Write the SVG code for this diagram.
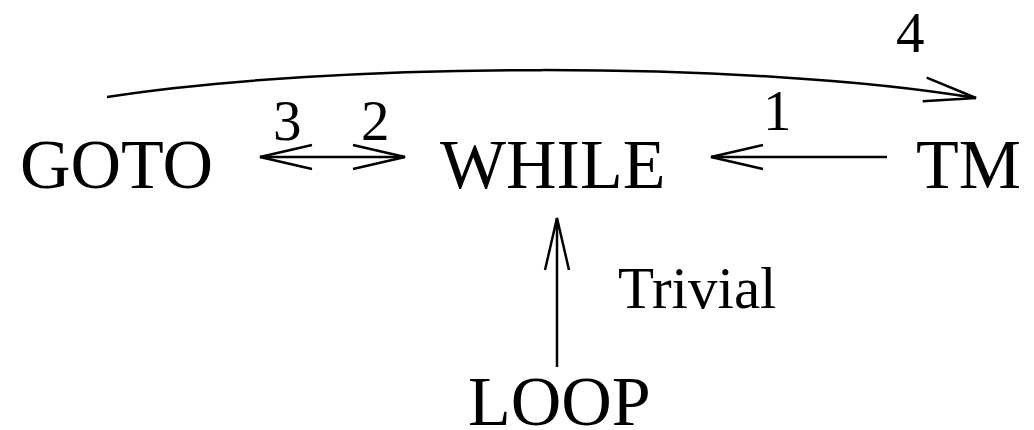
<svg xmlns="http://www.w3.org/2000/svg" width="1034" height="430" viewBox="0 0 1034 430">
<style>
.node{font-family:"Liberation Serif","Times New Roman",serif;font-size:70px;fill:#000}
.lbl{font-family:"Liberation Serif","Times New Roman",serif;font-size:57px;fill:#000}
.edge{fill:none;stroke:#000;stroke-width:2.5}
</style>
<defs>
<marker id="ah" markerUnits="userSpaceOnUse" viewBox="-56 -16 60 32" markerWidth="60" markerHeight="32" refX="0" refY="0" orient="auto-start-reverse" overflow="visible">
<path d="M-52,-12 L0,0 L-52,12" fill="none" stroke="#000" stroke-width="2.5"/>
</marker>
</defs>
<rect width="1034" height="430" fill="#fff"/>
<g id="goto"><text class="node" x="20" y="188">GOTO</text></g>
<g id="while"><text class="node" x="440" y="188">WHILE</text></g>
<g id="tm"><text class="node" x="916" y="188">TM</text></g>
<g id="loop"><text class="node" x="468" y="425">LOOP</text></g>
<g id="connectors">
<path class="edge" d="M107,97 C330,62 750,60 976,98" marker-end="url(#ah)"/>
<line class="edge" x1="260" y1="157" x2="405" y2="157" marker-start="url(#ah)" marker-end="url(#ah)"/>
<line class="edge" x1="887" y1="157" x2="711" y2="157" marker-end="url(#ah)"/>
<line class="edge" x1="557" y1="367" x2="557" y2="218" marker-end="url(#ah)"/>
<text class="lbl" x="896" y="52">4</text>
<text class="lbl" x="273" y="140">3</text>
<text class="lbl" x="361" y="140">2</text>
<text class="lbl" x="763" y="130">1</text>
<text class="lbl" x="618" y="308" style="font-size:59px">Trivial</text>
</g>
</svg>
